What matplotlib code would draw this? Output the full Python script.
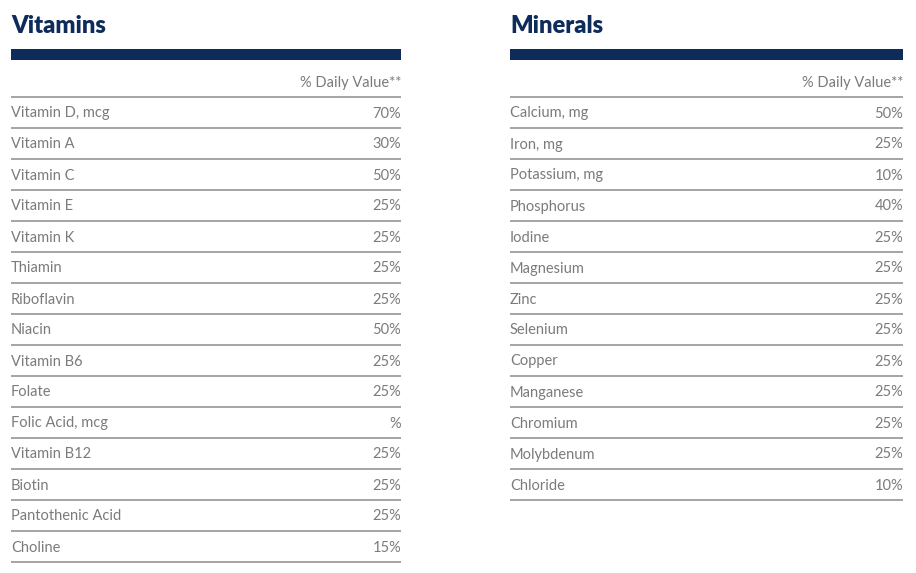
import matplotlib
matplotlib.use("Agg")
import matplotlib.pyplot as plt

NAVY = "#0d2b5b"
TEXT_GREY = "#7b7b7b"
RULE_GREY = "#8c8c8c"

vitamin_names = ["Vitamin D, mcg", "Vitamin A", "Vitamin C", "Vitamin E", "Vitamin K",
                 "Thiamin", "Riboflavin", "Niacin", "Vitamin B6", "Folate",
                 "Folic Acid, mcg", "Vitamin B12", "Biotin", "Pantothenic Acid", "Choline"]
vitamin_values = ["70%", "30%", "50%", "25%", "25%", "25%", "25%", "50%", "25%", "25%",
                  "%", "25%", "25%", "25%", "15%"]

mineral_names = ["Calcium, mg", "Iron, mg", "Potassium, mg", "Phosphorus", "Iodine",
                 "Magnesium", "Zinc", "Selenium", "Copper", "Manganese", "Chromium",
                 "Molybdenum", "Chloride"]
mineral_values = ["50%", "25%", "10%", "40%", "25%", "25%", "25%", "25%", "25%", "25%",
                  "25%", "25%", "10%"]

header = "% Daily Value**"
BODY_FONT = "Lato"


def draw_table(ax, x0, x1, title, names, values):
	ax.text(x0, 33, title, ha="left", va="baseline", fontsize=17, fontweight="heavy",
			color=NAVY, family="Lato")
	ax.add_patch(plt.Rectangle((x0, 49), x1 - x0, 11, color=NAVY, lw=0))
	ax.text(x1, 87, header, ha="right", va="baseline", fontsize=10.5,
			color=TEXT_GREY, family=BODY_FONT)
	step = 31
	top = 97
	for i, (name, val) in enumerate(zip(names, values)):
		y_line = top + i * step
		ax.plot([x0, x1], [y_line, y_line], color=RULE_GREY, lw=1.1, solid_capstyle="butt")
		yb = y_line + 20.5
		ax.text(x0, yb, name, ha="left", va="baseline", fontsize=10.5,
				color=TEXT_GREY, family=BODY_FONT)
		ax.text(x1, yb, val, ha="right", va="baseline", fontsize=10.5,
				color=TEXT_GREY, family=BODY_FONT)
	y_end = top + len(names) * step
	ax.plot([x0, x1], [y_end, y_end], color=RULE_GREY, lw=1.1, solid_capstyle="butt")


fig = plt.figure(figsize=(9.16, 5.73), dpi=100)
ax = fig.add_axes([0, 0, 1, 1])
ax.set_xlim(0, 916)
ax.set_ylim(573, 0)
ax.axis("off")

draw_table(ax, 11, 401, "Vitamins", vitamin_names, vitamin_values)
draw_table(ax, 510, 903, "Minerals", mineral_names, mineral_values)

fig.savefig("out.png", dpi=100, facecolor="white")
